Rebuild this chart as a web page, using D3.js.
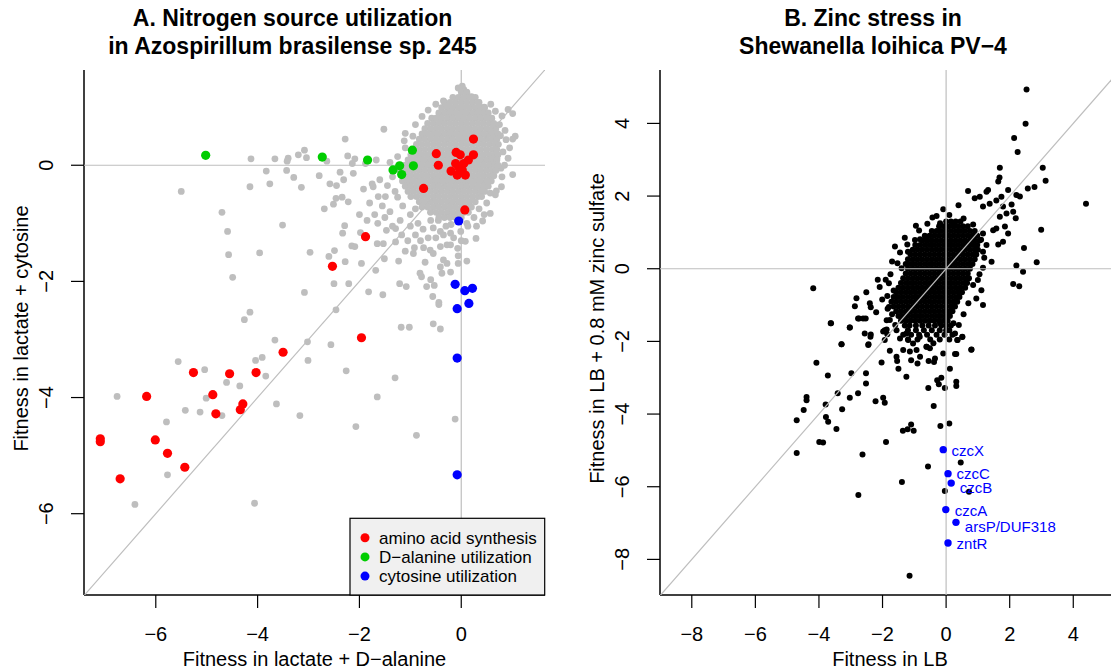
<!DOCTYPE html>
<html>
<head>
<meta charset="utf-8">
<script src="https://cdn.jsdelivr.net/npm/d3@7"></script>
<style>
  html, body { margin: 0; padding: 0; background: #fff; }
  svg { display: block; }
</style>
</head>
<body>
<script>
/**
 * Two fitness scatter plots side by side.
 *   A: Azospirillum, lactate + D-alanine vs lactate + cytosine, coloured gene groups + legend
 *   B: Shewanella, LB vs LB + zinc sulfate, labelled czc / znt genes
 * All values are [x, y] in fitness units.
 */

/* ---------------- Panel A data ---------------- */

// scattered gray genes (outside the dense core)
const grayA = [
  [-5.50,-0.45],[-4.70,-0.81],[-4.59,-1.14],[-4.57,-1.54],[-4.49,-1.93],[-3.96,-1.51],[-3.51,-1.03],
  [-4.15,-2.53],[-4.26,-2.66],[-3.08,-2.19],[-2.46,-2.49],[-2.97,-1.50],[-2.60,-1.57],[-2.49,-1.47],
  [-2.28,-1.66],[-2.50,-2.04],[-2.21,-2.04],[-1.96,-1.69],[-1.82,-2.18],[-1.54,-2.23],[-1.68,-1.81],
  [-1.51,-1.61],[-1.23,-1.65],[-1.21,-2.04],[-1.08,-2.09],[-0.44,-2.40],[-0.44,-2.36],[-0.56,-2.26],
  [-0.60,-1.97],[-0.53,-2.07],[-0.68,-2.09],[-0.81,-1.86],[-0.78,-1.92],[-0.71,-1.67],[-0.74,-1.42],
  [-0.94,-1.52],[-0.92,-1.42],[-1.10,-1.48],[-0.61,-1.46],[-0.55,-1.52],[-0.41,-1.40],[-0.28,-1.37],
  [-0.21,-1.37],[-0.35,-1.63],[-0.28,-1.69],[-0.41,-1.75],[-0.38,-1.86],[-0.21,-1.84],[-0.06,-1.56],
  [-0.06,-1.69],[0.11,-1.65],[0.08,-1.31],[-0.07,-1.43],[0.29,-1.26],[0.57,-0.83],[0.42,-0.96],
  [0.11,-1.00],[0.13,-1.05],[-0.21,-1.17],[-0.01,-1.14],[-0.41,-1.14],[-0.55,-1.08],[-0.20,-1.02],
  [-4.13,0.11],[-3.66,0.11],[-3.40,0.12],[-3.42,0.07],[-3.20,0.18],[-3.08,0.26],[-3.04,0.13],
  [-2.64,0.07],[-2.28,0.45],[-2.23,0.16],[-2.09,0.11],[-2.14,0.03],[-1.88,0.03],[-1.67,0.09],
  [-1.52,0.62],[-3.83,-0.10],[-3.43,-0.09],[-3.76,-0.32],[-4.15,-0.37],[-3.29,-0.21],[-3.14,-0.38],
  [-2.79,-0.18],[-2.58,-0.32],[-2.45,-0.35],[-2.31,-0.25],[-2.38,-0.12],[-2.12,-0.14],[-1.92,-0.41],
  [-1.75,-0.32],[-1.73,-0.37],[-1.80,-0.65],[-1.63,-0.54],[-1.49,-0.54],[-2.69,-0.75],[-2.51,-0.67],
  [-2.46,-0.57],[-2.34,-0.55],[-2.22,-0.63],[-2.33,-1.17],[-2.29,-1.04],[-2.15,-1.39],[-2.09,-1.40],
  [-1.98,-1.16],[-1.65,-1.35],[-1.53,-1.35],[-1.64,-1.00],[-1.47,-1.12],[-1.29,-1.09],[-1.17,-1.20],
  [-1.29,-1.32],
  [-0.77,0.84],[-0.43,0.79],[-0.35,1.11],[-0.25,1.01],[0.05,1.30],[0.11,1.24],[0.35,1.08],
  [0.67,0.93],[0.92,0.96],[1.01,0.89],[1.06,0.50],[1.01,0.45],[0.88,0.44],[0.77,0.51],[0.82,0.23],
  [0.92,0.12],[0.70,0.12],[1.01,-0.16],[0.79,-0.37],[0.69,-0.44],[0.67,-0.51],[0.57,-0.48],
  [-1.35,-0.20],[-1.45,-0.35],[-1.30,-0.45],[-1.40,0.05],[-1.25,0.15],[-1.10,0.30],[-0.95,0.50],
  [-1.15,-0.70],[-1.00,-0.85],[-0.85,-1.00],[-1.60,-0.25],[-1.55,-0.70],[-1.40,-0.80],[-1.20,-0.95],
  [-1.10,0.55],[-0.90,0.70],[-0.65,0.95],[-0.50,1.05],[0.20,1.18],[0.45,1.00],[0.55,0.80],
  [0.75,0.70],[0.85,0.00],[0.80,-0.20],[0.50,-0.65],[0.35,-0.75],[0.25,-0.90],[-0.05,-0.95],
  [-1.00,-1.05],[-0.90,-1.20],[-0.75,-1.10],[-0.65,-1.25],[-0.80,-1.30],[-0.50,-1.25],[-0.35,-1.20],
  [-0.60,-0.95],[-0.45,-0.95],[-0.30,-1.05],[-0.15,-1.25],[0.00,-1.30],[-1.05,-1.30],[-1.35,-1.05],
  [-1.50,-0.90],[-1.70,-0.85],[-1.85,-0.95],[-2.00,-0.85],
  [-1.18,-2.79],[-1.02,-2.79],[-0.55,-2.73],[-0.41,-2.82],[-3.66,-3.01],[-3.02,-3.04],[-3.01,-3.36],
  [-2.56,-3.09],[-4.04,-3.36],[-3.91,-3.31],[-5.56,-3.38],[-5.04,-3.52],[-3.84,-3.63],[-4.61,-3.74],
  [-4.35,-3.80],[-6.76,-3.98],[-5.01,-4.01],[-5.42,-4.22],[-5.13,-4.25],[-4.70,-4.31],[-3.63,-4.11],
  [-3.17,-4.31],[-2.26,-3.54],[-1.30,-3.66],[-1.65,-3.99],[-2.07,-4.50],[-0.88,-4.65],[-0.12,-4.37],
  [-5.79,-4.42],[-5.77,-5.33],[-6.41,-5.84],[-4.06,-5.82],
  [0.02,1.36],[-0.06,1.33],[0.58,1.05],[0.80,0.85],[0.86,0.60],[0.95,0.30],[0.78,-0.05],
  [-1.12,0.42],[-1.20,-0.10],[-1.25,-0.55],[-0.90,-0.75],[0.30,-1.05],[0.45,-0.85]
];

// dense core of panel A, one row per y value: [y, [x...]]
const coreRowsA = [
  [1.26, [0.00,0.11]],
  [1.17, [-0.165,-0.055,0.055,0.165,0.275]],
  [1.08, [-0.33,-0.22,-0.11,0.00,0.11,0.22,0.33]],
  [0.99, [-0.385,-0.275,-0.165,-0.055,0.055,0.165,0.275,0.385,0.46]],
  [0.90, [-0.44,-0.33,-0.22,-0.11,0.00,0.11,0.22,0.33,0.44,0.53]],
  [0.81, [-0.58,-0.495,-0.385,-0.275,-0.165,-0.055,0.055,0.165,0.275,0.385,0.495,0.60]],
  [0.72, [-0.66,-0.55,-0.44,-0.33,-0.22,-0.11,0.00,0.11,0.22,0.33,0.44,0.55,0.64]],
  [0.63, [-0.715,-0.605,-0.495,-0.385,-0.275,-0.165,-0.055,0.055,0.165,0.275,0.385,0.495,0.605,0.68]],
  [0.54, [-0.77,-0.66,-0.55,-0.44,-0.33,-0.22,-0.11,0.00,0.11,0.22,0.33,0.44,0.55,0.66,0.72]],
  [0.45, [-0.825,-0.715,-0.605,-0.495,-0.385,-0.275,-0.165,-0.055,0.055,0.165,0.275,0.385,0.495,0.605,0.70]],
  [0.36, [-0.88,-0.77,-0.66,-0.55,-0.44,-0.33,-0.22,-0.11,0.00,0.11,0.22,0.33,0.44,0.55,0.66,0.73]],
  [0.27, [-0.935,-0.825,-0.715,-0.605,-0.495,-0.385,-0.275,-0.165,-0.055,0.055,0.165,0.275,0.385,0.495,0.605,0.70]],
  [0.18, [-0.99,-0.88,-0.77,-0.66,-0.55,-0.44,-0.33,-0.22,-0.11,0.00,0.11,0.22,0.33,0.44,0.55,0.66,0.72]],
  [0.09, [-1.045,-0.935,-0.825,-0.715,-0.605,-0.495,-0.385,-0.275,-0.165,-0.055,0.055,0.165,0.275,0.385,0.495,0.605,0.70]],
  [0.00, [-1.10,-0.99,-0.88,-0.77,-0.66,-0.55,-0.44,-0.33,-0.22,-0.11,0.00,0.11,0.22,0.33,0.44,0.55,0.66,0.72]],
  [-0.09, [-1.12,-1.045,-0.935,-0.825,-0.715,-0.605,-0.495,-0.385,-0.275,-0.165,-0.055,0.055,0.165,0.275,0.385,0.495,0.605,0.68]],
  [-0.18, [-1.10,-0.99,-0.88,-0.77,-0.66,-0.55,-0.44,-0.33,-0.22,-0.11,0.00,0.11,0.22,0.33,0.44,0.55,0.64]],
  [-0.27, [-1.155,-1.045,-0.935,-0.825,-0.715,-0.605,-0.495,-0.385,-0.275,-0.165,-0.055,0.055,0.165,0.275,0.385,0.495,0.59]],
  [-0.36, [-1.10,-0.99,-0.88,-0.77,-0.66,-0.55,-0.44,-0.33,-0.22,-0.11,0.00,0.11,0.22,0.33,0.44,0.53]],
  [-0.45, [-1.045,-0.935,-0.825,-0.715,-0.605,-0.495,-0.385,-0.275,-0.165,-0.055,0.055,0.165,0.275,0.385,0.46]],
  [-0.54, [-0.99,-0.88,-0.77,-0.66,-0.55,-0.44,-0.33,-0.22,-0.11,0.00,0.11,0.22,0.33,0.40]],
  [-0.63, [-0.825,-0.715,-0.605,-0.495,-0.385,-0.275,-0.165,-0.055,0.055,0.165,0.275]],
  [-0.72, [-0.77,-0.66,-0.55,-0.44,-0.33,-0.22,-0.11,0.00,0.11,0.20]],
  [-0.81, [-0.605,-0.495,-0.385,-0.275,-0.165,-0.055,0.055,0.14]],
  [-0.90, [-0.44,-0.33,-0.22,-0.11,0.00]]
];

const aminoAcid = [
  [0.24,0.45],[-0.49,0.20],[-0.45,0.00],[-0.10,0.22],[-0.02,0.18],[0.24,0.18],[0.14,0.09],
  [0.05,0.03],[-0.05,-0.03],[-0.20,-0.10],[-0.08,-0.17],[0.08,-0.17],[0.02,-0.08],[-0.11,0.03],
  [-0.74,-0.40],[0.07,-0.77],[-1.88,-1.23],[-2.53,-1.74],[-1.96,-2.97],[-3.50,-3.22],
  [-5.26,-3.57],[-4.55,-3.59],[-4.03,-3.57],[-6.18,-3.98],[-4.88,-3.95],[-4.82,-4.28],
  [-4.29,-4.11],[-4.34,-4.21],[-7.09,-4.71],[-7.09,-4.76],[-6.01,-4.73],[-5.77,-4.96],
  [-5.43,-5.20],[-6.70,-5.40]
];
const dAlanine = [
  [-5.02,0.17],[-2.73,0.14],[-1.84,0.09],[-1.34,-0.08],[-1.21,-0.01],[-1.17,-0.16],
  [-0.96,0.26],[-0.94,-0.01]
];
const cytosine = [
  [-0.05,-0.96],[-0.12,-2.05],[0.07,-2.16],[0.22,-2.12],[-0.08,-2.47],[0.15,-2.38],
  [-0.08,-3.32],[-0.08,-5.33]
];

const legendA = [
  { label: 'amino acid synthesis',  color: '#ff0000' },
  { label: 'D\u2212alanine utilization', color: '#00cd00' },
  { label: 'cytosine utilization',  color: '#0000ff' }
];

/* ---------------- Panel B data ---------------- */

const blackB = [
  [2.53,4.93],[2.50,3.99],[2.14,3.60],[2.25,3.21],[1.69,2.78],[1.68,2.51],[1.64,2.40],[3.04,2.78],
  [3.13,2.42],[2.78,2.25],[2.57,2.21],[4.40,1.79],[2.99,1.07],[2.45,0.57],[2.85,0.18],[2.21,0.09],
  [2.42,-0.08],[2.11,-0.42],[2.30,-0.48],
  [2.21,2.03],[2.32,1.99],[1.95,2.17],[2.06,1.77],[2.11,1.57],[2.19,1.39],[1.90,1.52],[1.95,0.97],
  [1.85,1.16],[1.79,0.74],[1.64,0.67],[1.48,1.06],[1.43,0.19],[1.11,-0.59],[1.16,-1.00],[1.00,-0.31],
  [0.95,-0.82],[1.16,0.03],[0.69,2.14],[0.90,1.94],[1.06,1.98],[1.27,2.12],[1.32,2.17],[1.16,1.71],
  [1.37,1.79],[1.58,1.88],[1.74,1.98],[1.79,1.71],[1.69,1.43],[1.58,1.11],[1.16,0.97],[1.27,0.65],
  [1.16,0.47],[0.39,1.75],[-0.09,1.64],[-0.43,1.41],[-0.95,1.18],[-0.59,1.24],[-0.19,1.25],[0.25,1.20],
  [-1.61,0.61],[-1.22,0.67],[-1.20,0.47],[-0.98,0.79],[-0.82,0.81],[-0.61,0.83],[-1.53,0.15],[-1.40,0.01],
  [-4.18,-0.54],[-3.63,-1.50],[-3.29,-2.08],[-3.03,-1.62],[-2.82,-0.81],[-2.87,-1.03],[-2.77,-1.37],
  [-2.53,-1.37],[-2.51,-0.65],[-2.37,-1.06],[-2.09,-0.50],[-2.01,-0.85],[-1.84,-1.10],[-1.87,-1.42],
  [-1.93,-1.69],[-1.77,-2.26],[-2.56,-1.78],[-2.38,-1.87],[-2.45,-2.10],[-1.93,-1.96],[-1.56,-2.42],
  [-1.35,-2.24],[-1.14,-2.28],[-0.82,-2.42],[-0.61,-2.15],[-0.40,-2.05],[-0.35,-2.47],[-0.09,-2.33],
  [-0.19,-1.50],[0.23,-1.50],[0.28,-1.78],[0.36,-1.96],[0.51,-1.87],[0.80,-2.22],[0.28,-2.35],
  [-2.03,-2.58],[-1.54,-2.54],[-1.50,-2.75],[-1.10,-2.52],[-0.90,-2.61],[-0.55,-2.54],[-0.38,-2.57],
  [-0.51,-2.19],[-0.93,-2.24],[-0.62,-2.15],[-1.85,-1.80],[-1.98,-1.73],[-2.61,-1.37],[-2.74,-1.37],
  [-2.37,-1.81],[-2.44,-2.08],[-1.77,-1.41],[-1.87,-1.67],[-1.56,-1.69],[-1.45,-1.92],[-1.25,-1.78],
  [-1.19,-1.96],[-1.04,-2.06],[-0.83,-1.87],
  [-3.62,-1.50],[-3.03,-1.62],[-3.29,-2.08],[-4.08,-2.59],[-3.72,-2.94],[-2.98,-2.88],[-2.52,-2.88],
  [-2.52,-3.16],[-4.39,-3.53],[-4.39,-3.62],[-4.48,-3.89],[-4.70,-4.17],[-4.70,-5.07],[-3.79,-3.74],
  [-3.78,-4.08],[-3.71,-4.21],[-3.45,-4.41],[-3.27,-3.87],[-3.41,-3.43],[-3.03,-3.55],[-2.77,-3.43],
  [-3.99,-4.77],[-3.87,-4.78],[-2.63,-5.11],[-2.76,-6.23],[-1.98,-3.55],[-1.93,-3.69],[-2.22,-3.65],
  [-1.89,-4.77],[-1.25,-2.97],[-1.36,-4.46],[-1.21,-4.42],[-1.10,-4.29],[-1.02,-4.46],[-1.39,-5.87],
  [-1.15,-8.45],[-0.57,-5.44],[-0.39,-3.78],[-0.56,-3.28],[-0.23,-3.18],[-0.28,-3.07],[-0.15,-3.00],
  [-0.04,-3.28],[-0.18,-4.33],[0.10,-4.26],[0.32,-3.11],[0.32,-3.23],[0.12,-2.75],[0.46,-5.33],
  [-0.04,-6.12],[0.72,-6.14],[0.79,-2.23],[0.32,-2.35],[0.51,-1.88],[0.35,-1.96],
  [-2.40,-0.95],[-2.20,-1.20],[-2.15,-0.30],[-1.80,-0.40],[-1.85,-0.75],[-1.70,0.20],[-1.75,-0.15],
  [-0.30,1.45],[0.10,1.48],[0.55,1.38],[0.85,1.22],[1.10,0.80],[1.20,0.30],[1.05,-0.15],
  [0.85,-0.45],[0.70,-0.95],[0.55,-1.25],[0.40,-1.55],[-1.80,-1.05],[-1.90,-0.30],[-1.45,0.45],
  [-1.30,0.85],[-0.85,1.05],[-1.65,-0.60],[-1.70,-1.25],[-1.60,-1.55]
];

// dense core of panel B: [y, [x...]]
const coreRowsB = [
  [1.30, [0.00,0.15,0.30,0.45]],
  [1.17, [-0.22,-0.07,0.08,0.23,0.38,0.53,0.68]],
  [1.04, [-0.45,-0.30,-0.15,0.00,0.15,0.30,0.45,0.60,0.75,0.90]],
  [0.91, [-0.67,-0.52,-0.37,-0.22,-0.07,0.08,0.23,0.38,0.53,0.68,0.83,0.98]],
  [0.78, [-0.75,-0.60,-0.45,-0.30,-0.15,0.00,0.15,0.30,0.45,0.60,0.75,0.90,1.05]],
  [0.65, [-0.97,-0.82,-0.67,-0.52,-0.37,-0.22,-0.07,0.08,0.23,0.38,0.53,0.68,0.83,0.98]],
  [0.52, [-1.05,-0.90,-0.75,-0.60,-0.45,-0.30,-0.15,0.00,0.15,0.30,0.45,0.60,0.75,0.90,1.00]],
  [0.39, [-1.12,-0.97,-0.82,-0.67,-0.52,-0.37,-0.22,-0.07,0.08,0.23,0.38,0.53,0.68,0.83,0.95]],
  [0.26, [-1.20,-1.05,-0.90,-0.75,-0.60,-0.45,-0.30,-0.15,0.00,0.15,0.30,0.45,0.60,0.75,0.90]],
  [0.13, [-1.27,-1.12,-0.97,-0.82,-0.67,-0.52,-0.37,-0.22,-0.07,0.08,0.23,0.38,0.53,0.68,0.83]],
  [0.00, [-1.20,-1.05,-0.90,-0.75,-0.60,-0.45,-0.30,-0.15,0.00,0.15,0.30,0.45,0.60,0.75]],
  [-0.13, [-1.27,-1.12,-0.97,-0.82,-0.67,-0.52,-0.37,-0.22,-0.07,0.08,0.23,0.38,0.53,0.68]],
  [-0.26, [-1.35,-1.20,-1.05,-0.90,-0.75,-0.60,-0.45,-0.30,-0.15,0.00,0.15,0.30,0.45,0.60,0.72]],
  [-0.39, [-1.42,-1.27,-1.12,-0.97,-0.82,-0.67,-0.52,-0.37,-0.22,-0.07,0.08,0.23,0.38,0.53,0.66]],
  [-0.52, [-1.50,-1.35,-1.20,-1.05,-0.90,-0.75,-0.60,-0.45,-0.30,-0.15,0.00,0.15,0.30,0.45,0.60]],
  [-0.65, [-1.57,-1.42,-1.27,-1.12,-0.97,-0.82,-0.67,-0.52,-0.37,-0.22,-0.07,0.08,0.23,0.38,0.50]],
  [-0.78, [-1.65,-1.50,-1.35,-1.20,-1.05,-0.90,-0.75,-0.60,-0.45,-0.30,-0.15,0.00,0.15,0.30,0.42]],
  [-0.91, [-1.72,-1.57,-1.42,-1.27,-1.12,-0.97,-0.82,-0.67,-0.52,-0.37,-0.22,-0.07,0.08,0.23,0.35]],
  [-1.04, [-1.65,-1.50,-1.35,-1.20,-1.05,-0.90,-0.75,-0.60,-0.45,-0.30,-0.15,0.00,0.15,0.28]],
  [-1.17, [-1.57,-1.42,-1.27,-1.12,-0.97,-0.82,-0.67,-0.52,-0.37,-0.22,-0.07,0.08,0.20]],
  [-1.30, [-1.50,-1.35,-1.20,-1.05,-0.90,-0.75,-0.60,-0.45,-0.30,-0.15,0.00,0.12]],
  [-1.43, [-1.42,-1.27,-1.12,-0.97,-0.82,-0.67,-0.52,-0.37,-0.22,-0.07,0.05]],
  [-1.56, [-1.30,-1.15,-0.95,-0.75,-0.55,-0.35,-0.15,0.00,0.15]],
  [-1.69, [-1.20,-0.95,-0.70,-0.45,-0.20,0.00,0.10]],
  [-1.82, [-1.35,-1.10,-0.85,-0.60,-0.30,-0.05,0.20]],
  [-1.95, [-1.20,-0.90,-0.50,-0.20,0.10]]
];

// labelled genes: point (x, y) and label anchor (lx, ly), all in fitness units
const zincGenes = [
  { name: 'czcX',        x: -0.09, y: -4.98, lx: 0.17, ly: -5.01 },
  { name: 'czcC',        x:  0.06, y: -5.64, lx: 0.33, ly: -5.64 },
  { name: 'czcB',        x:  0.16, y: -5.90, lx: 0.43, ly: -6.03 },
  { name: 'czcA',        x: -0.01, y: -6.63, lx: 0.27, ly: -6.65 },
  { name: 'arsP/DUF318', x:  0.31, y: -6.98, lx: 0.59, ly: -7.09 },
  { name: 'zntR',        x:  0.06, y: -7.55, lx: 0.33, ly: -7.58 }
];

const ticksA = [-6, -4, -2, 0];
const ticksB = [-8, -6, -4, -2, 0, 2, 4];

/* ---------------- Drawing ---------------- */

const FONT = '"Liberation Sans", Arial, Helvetica, sans-serif';
const GRAY_LINE = '#bebebe';
const fmt = v => (v < 0 ? '\u2212' + Math.abs(v) : String(v));
const rowsToPoints = rows => rows.flatMap(([y, xs]) => xs.map(x => [x, y]));

const svg = d3.select('body').append('svg')
  .attr('width', 1111).attr('height', 672)
  .style('font-family', FONT);

function drawFrame(cfg) {
  const { x, y } = cfg;
  const [x0, x1] = x.range();
  const [y0, y1] = y.range(); // y0 = bottom
  const g = svg.append('g');

  // titles
  cfg.title.forEach((t, i) => {
    g.append('text')
      .attr('x', cfg.titleX).attr('y', 25.7 + i * 28.5)
      .attr('text-anchor', 'middle')
      .attr('font-size', 23).attr('font-weight', 'bold')
      .text(t);
  });

  // axis lines (L-shaped box)
  g.append('line').attr('x1', x0).attr('x2', x0).attr('y1', y1).attr('y2', y0)
    .attr('stroke', '#000').attr('stroke-width', 1.5);
  g.append('line').attr('x1', x0).attr('x2', x1).attr('y1', y0).attr('y2', y0)
    .attr('stroke', '#000').attr('stroke-width', 1.5);

  // x ticks + labels
  cfg.xTicks.forEach(v => {
    g.append('line').attr('x1', x(v)).attr('x2', x(v)).attr('y1', y0).attr('y2', y0 + 13)
      .attr('stroke', '#000').attr('stroke-width', 1.2);
    g.append('text').attr('x', x(v)).attr('y', 641)
      .attr('text-anchor', 'middle').attr('font-size', 20).text(fmt(v));
  });

  // y ticks + rotated labels
  cfg.yTicks.forEach(v => {
    g.append('line').attr('x1', x0 - 13).attr('x2', x0).attr('y1', y(v)).attr('y2', y(v))
      .attr('stroke', '#000').attr('stroke-width', 1.2);
    g.append('text')
      .attr('transform', `translate(${x0 - 31},${y(v)}) rotate(-90)`)
      .attr('text-anchor', 'middle').attr('font-size', 20).text(fmt(v));
  });

  // axis titles
  g.append('text').attr('x', (x0 + x1) / 2).attr('y', 666)
    .attr('text-anchor', 'middle').attr('font-size', 20).text(cfg.xTitle);
  g.append('text')
    .attr('transform', `translate(${x0 - 56.5},${(y0 + y1) / 2 - 4}) rotate(-90)`)
    .attr('text-anchor', 'middle').attr('font-size', 20).text(cfg.yTitle);

  // clipped plot region
  const clipId = 'clip-' + cfg.id;
  svg.append('clipPath').attr('id', clipId)
    .append('rect').attr('x', x0).attr('y', y1).attr('width', x1 - x0).attr('height', y0 - y1);
  return svg.append('g').attr('clip-path', `url(#${clipId})`);
}

function drawRefLines(plot, x, y) {
  const [dx0, dx1] = x.domain();
  const [dy0, dy1] = y.domain();
  const lines = [
    [[dx0, 0], [dx1, 0]],
    [[0, dy0], [0, dy1]],
    [[Math.min(dx0, dy0), Math.min(dx0, dy0)], [Math.max(dx1, dy1), Math.max(dx1, dy1)]]
  ];
  plot.selectAll(null).data(lines).enter().append('line')
    .attr('x1', d => x(d[0][0])).attr('y1', d => y(d[0][1]))
    .attr('x2', d => x(d[1][0])).attr('y2', d => y(d[1][1]))
    .attr('stroke', GRAY_LINE).attr('stroke-width', 1.2);
}

function drawDots(plot, pts, x, y, r, color) {
  plot.append('g').selectAll('circle').data(pts).enter().append('circle')
    .attr('cx', d => x(d[0])).attr('cy', d => y(d[1]))
    .attr('r', r).attr('fill', color);
}

/* ---- Panel A ---- */
const xA = d3.scaleLinear().domain([-7.41, 1.645]).range([84, 545]);
const yA = d3.scaleLinear().domain([-7.40, 1.64]).range([595, 70]);
const plotA = drawFrame({
  id: 'a', x: xA, y: yA, titleX: 292.5,
  title: ['A. Nitrogen source utilization', 'in Azospirillum brasilense sp. 245'],
  xTicks: ticksA, yTicks: ticksA,
  xTitle: 'Fitness in lactate + D\u2212alanine', yTitle: 'Fitness in lactate + cytosine'
});
drawDots(plotA, grayA.concat(rowsToPoints(coreRowsA)), xA, yA, 3.4, '#bebebe');
drawRefLines(plotA, xA, yA);
drawDots(plotA, aminoAcid, xA, yA, 4.6, legendA[0].color);
drawDots(plotA, dAlanine, xA, yA, 4.6, legendA[1].color);
drawDots(plotA, cytosine, xA, yA, 4.6, legendA[2].color);

// legend (bottom-right corner of panel A)
const leg = svg.append('g');
leg.append('rect').attr('x', 350).attr('y', 518.3).attr('width', 194.7).attr('height', 76.7)
  .attr('fill', '#f0f0f0').attr('stroke', '#000').attr('stroke-width', 1.2);
legendA.forEach((d, i) => {
  const cy = 537.7 + i * 19.2;
  leg.append('circle').attr('cx', 365).attr('cy', cy).attr('r', 4.5).attr('fill', d.color);
  leg.append('text').attr('x', 379).attr('y', cy + 6).attr('font-size', 17).text(d.label);
});

/* ---- Panel B ---- */
const xB = d3.scaleLinear().domain([-9, 5.47]).range([660, 1120]);
const yB = d3.scaleLinear().domain([-8.98, 5.47]).range([595, 70]);
const plotB = drawFrame({
  id: 'b', x: xB, y: yB, titleX: 873,
  title: ['B. Zinc stress in', 'Shewanella loihica PV\u22124'],
  xTicks: ticksB, yTicks: ticksB,
  xTitle: 'Fitness in LB', yTitle: 'Fitness in LB + 0.8 mM zinc sulfate'
});
drawDots(plotB, blackB.concat(rowsToPoints(coreRowsB)), xB, yB, 3.0, '#000');
drawRefLines(plotB, xB, yB);
drawDots(plotB, zincGenes.map(d => [d.x, d.y]), xB, yB, 3.7, '#0000ff');
plotB.append('g').selectAll('text').data(zincGenes).enter().append('text')
  .attr('x', d => xB(d.lx)).attr('y', d => yB(d.ly)).attr('dy', '0.35em')
  .attr('font-size', 15).attr('fill', '#0000ff')
  .text(d => d.name);
</script>
</body>
</html>
